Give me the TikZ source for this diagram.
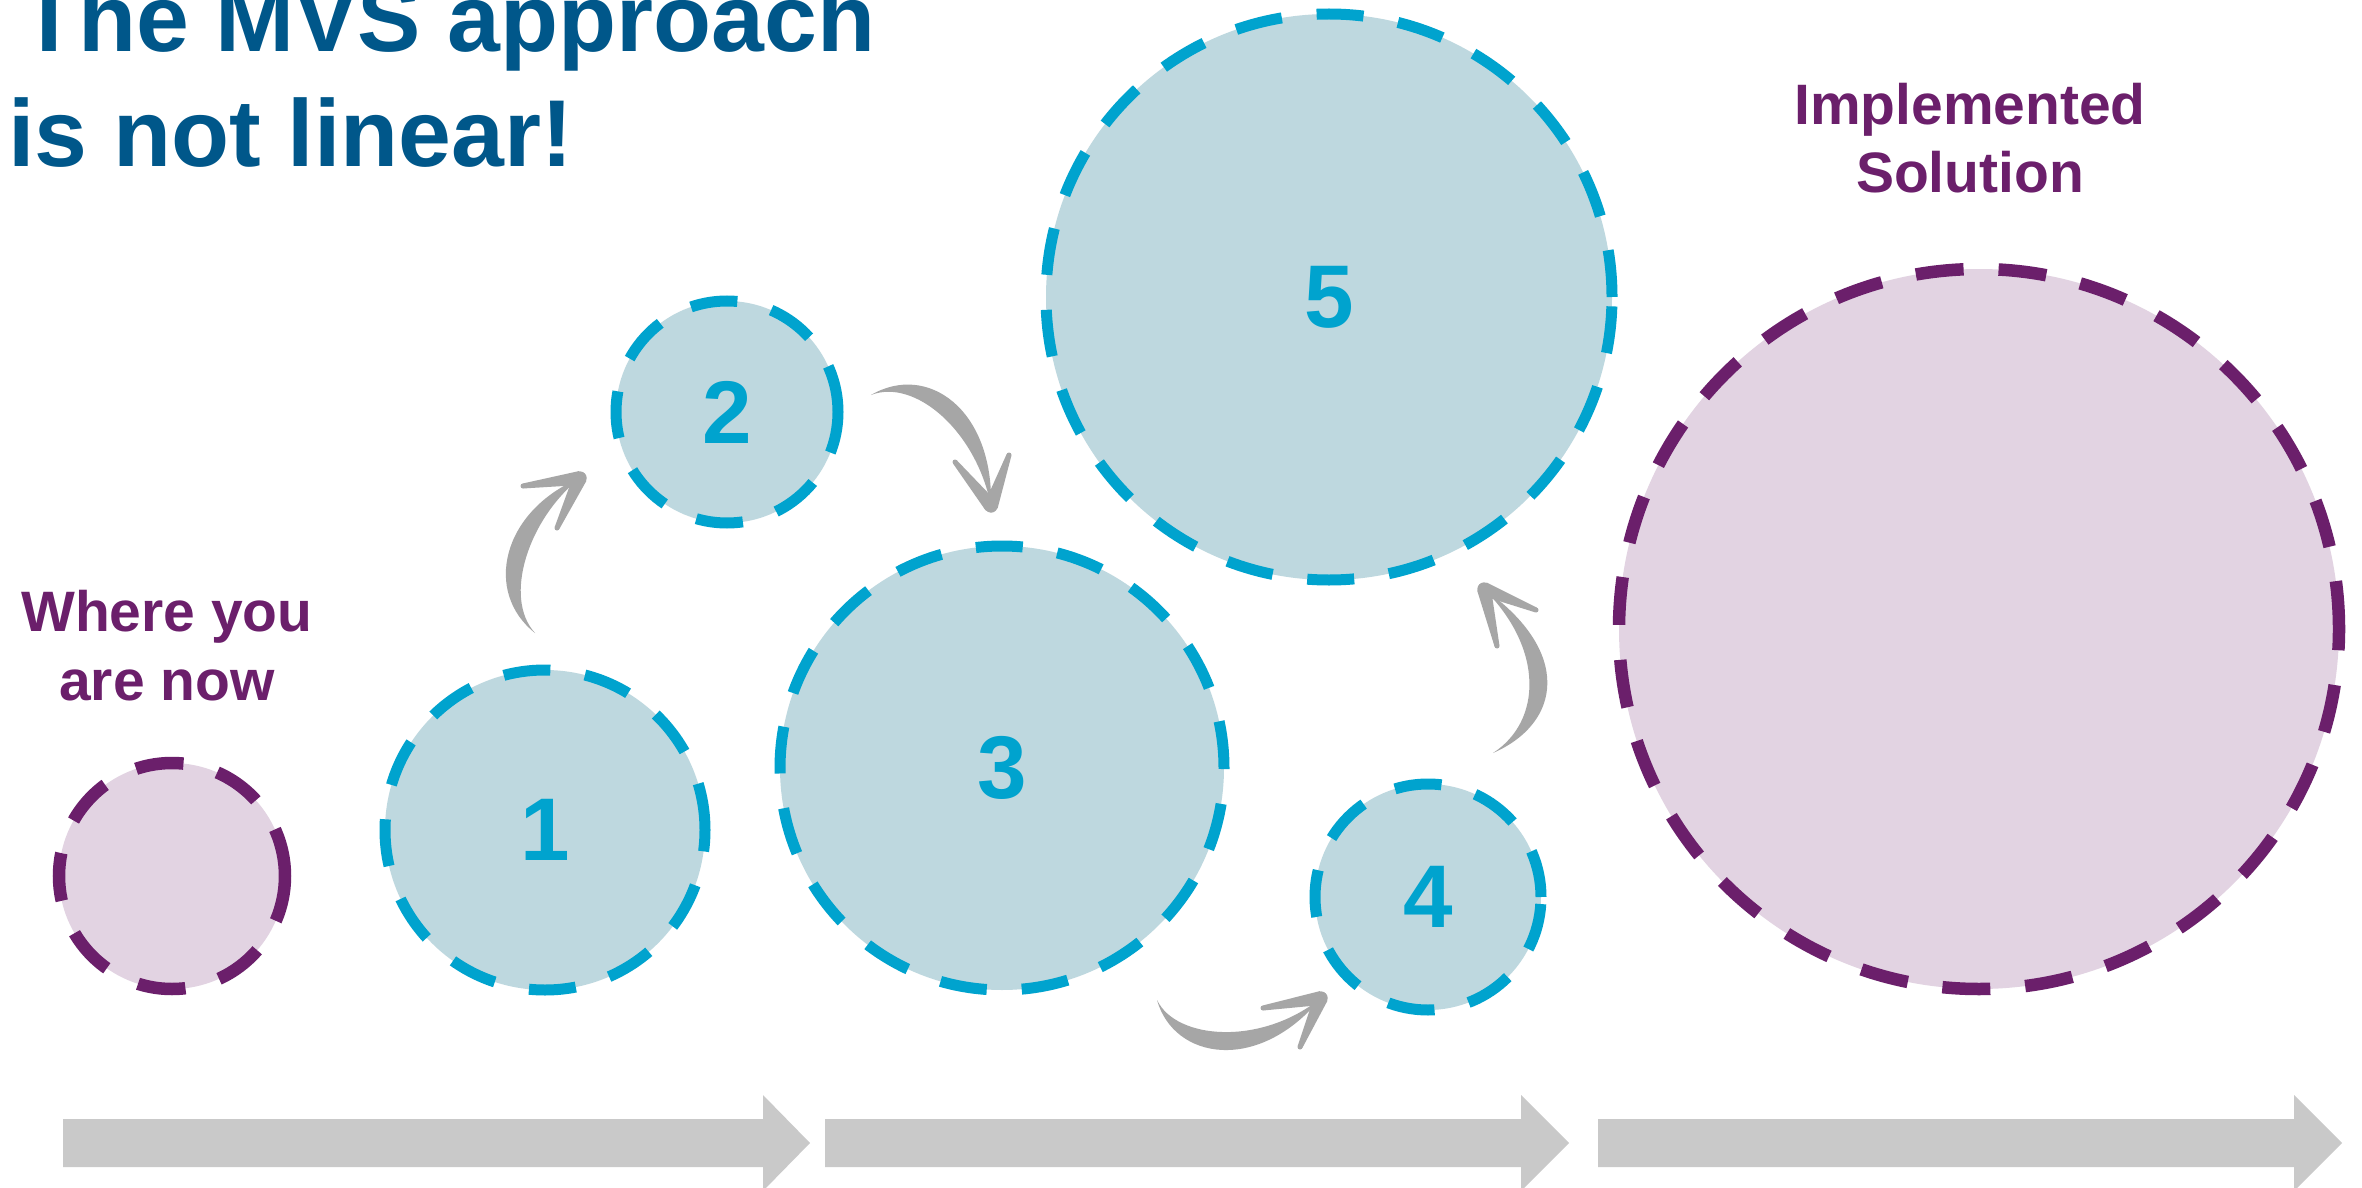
\documentclass[tikz,border=0pt]{standalone}
\usepackage{fontspec}
\setmainfont{Liberation Sans}
\usetikzlibrary{calc}
\definecolor{titleblue}{RGB}{0,87,138}
\definecolor{dashblue}{RGB}{0,163,206}
\definecolor{fillblue}{RGB}{190,216,223}
\definecolor{plum}{RGB}{107,31,107}
\definecolor{fillplum}{RGB}{226,211,226}
\definecolor{brushgray}{RGB}{166,166,166}
\definecolor{bargray}{RGB}{201,201,201}
% shaft of a brush arrow: P0 P1 P2 P3 w1 w2
\newcommand\brushshaft[6]{%
  \fill[brushgray] (#1) .. controls ($(#2)!#5!90:(#3)$) and ($(#3)!#6!-90:(#2)$) .. (#4)
     .. controls ($(#3)!#6!90:(#2)$) and ($(#2)!#5!-90:(#3)$) .. (#1) -- cycle;}
% barb of a brush arrow: from tip #1 to end #2
\newcommand\brushbarb[2]{%
  \fill[brushgray] ($(#1)!7pt!90:(#2)$) -- ($(#2)!2.5pt!-90:(#1)$) -- ($(#2)!2.5pt!90:(#1)$) -- ($(#1)!7pt!-90:(#2)$) -- cycle;
  \fill[brushgray] (#2) circle (2.5pt);
  \fill[brushgray] (#1) circle (6.5pt);}
\tikzset{
  bluecirc/.style={circle, draw=dashblue, fill=fillblue, line width=11pt,
    dash pattern=on 47pt off 35pt, inner sep=0pt, text=dashblue,
    font=\fontsize{89}{89}\selectfont\bfseries},
  plumcirc/.style={circle, draw=plum, fill=fillplum, line width=12.5pt,
    dash pattern=on 48pt off 35pt, inner sep=0pt},
  titletext/.style={inner sep=0pt, text=titleblue, font=\fontsize{95}{115}\selectfont\bfseries},
  plumtext/.style={inner sep=0pt, text=plum, align=center, font=\fontsize{57}{69}\selectfont\bfseries},
  bararrow/.style={fill=bargray}
}
\begin{document}
\begin{tikzpicture}[x=1pt,y=-1pt]
\useasboundingbox (0,0) rectangle (2362,1188);
\fill[white] (0,0) rectangle (2362,1188);

% title
\node[titletext, anchor=base west] (title1) at (20,52) {The MVS approach};
\node[titletext, anchor=base west] (title2) at (8,167) {is not linear!};

% labels (anchor base = baseline of the last line)
\node[plumtext, anchor=base] (now) at (167,700) {Where you\\are now};
\node[plumtext, anchor=base] (impl) at (1970,193) {Implemented\\Solution};

% circles
\node[plumcirc, minimum size=226pt] (p0) at (172,876) {};
\node[bluecirc, minimum size=320pt] (c1) at (545,830) {1};
\node[bluecirc, minimum size=222pt] (c2) at (727,412) {2};
\node[bluecirc, minimum size=444pt] (c3) at (1002,768) {3};
\node[bluecirc, minimum size=226pt] (c4) at (1428,897) {4};
\node[bluecirc, minimum size=566pt] (c5) at (1329,297) {5};
\node[plumcirc, minimum size=720pt] (p1) at (1979,629) {};

% brush arrows
\coordinate (a1s) at (535,633);
\coordinate (a1e) at (580,478);
\brushshaft{a1s}{493,595}{515,515}{a1e}{10pt}{14pt}
\brushbarb{a1e}{523,486}
\brushbarb{a1e}{557,528}

\coordinate (a2s) at (871,395);
\coordinate (a2e) at (991,506);
\brushshaft{a2s}{921,370}{985,420}{a2e}{10pt}{14pt}
\brushbarb{a2e}{955,462}
\brushbarb{a2e}{1009,455}

\coordinate (a3s) at (1157,1000);
\coordinate (a3e) at (1321,998);
\brushshaft{a3s}{1175,1050}{1260,1060}{a3e}{10pt}{14pt}
\brushbarb{a3e}{1263,1008}
\brushbarb{a3e}{1300,1047}

\coordinate (a4s) at (1493,753);
\coordinate (a4e) at (1484,589);
\brushshaft{a4s}{1552,722}{1558,650}{a4e}{10pt}{14pt}
\brushbarb{a4e}{1497,646}
\brushbarb{a4e}{1536,610}

% bottom arrows
\fill[bararrow] (63,1119) -- (763,1119) -- (763,1095) -- (810,1143) -- (763,1191) -- (763,1167) -- (63,1167) -- cycle;
\fill[bararrow] (825,1119) -- (1521,1119) -- (1521,1095) -- (1569,1143) -- (1521,1191) -- (1521,1167) -- (825,1167) -- cycle;
\fill[bararrow] (1598,1119) -- (2294,1119) -- (2294,1095) -- (2342,1143) -- (2294,1191) -- (2294,1167) -- (1598,1167) -- cycle;
\end{tikzpicture}
\end{document}
